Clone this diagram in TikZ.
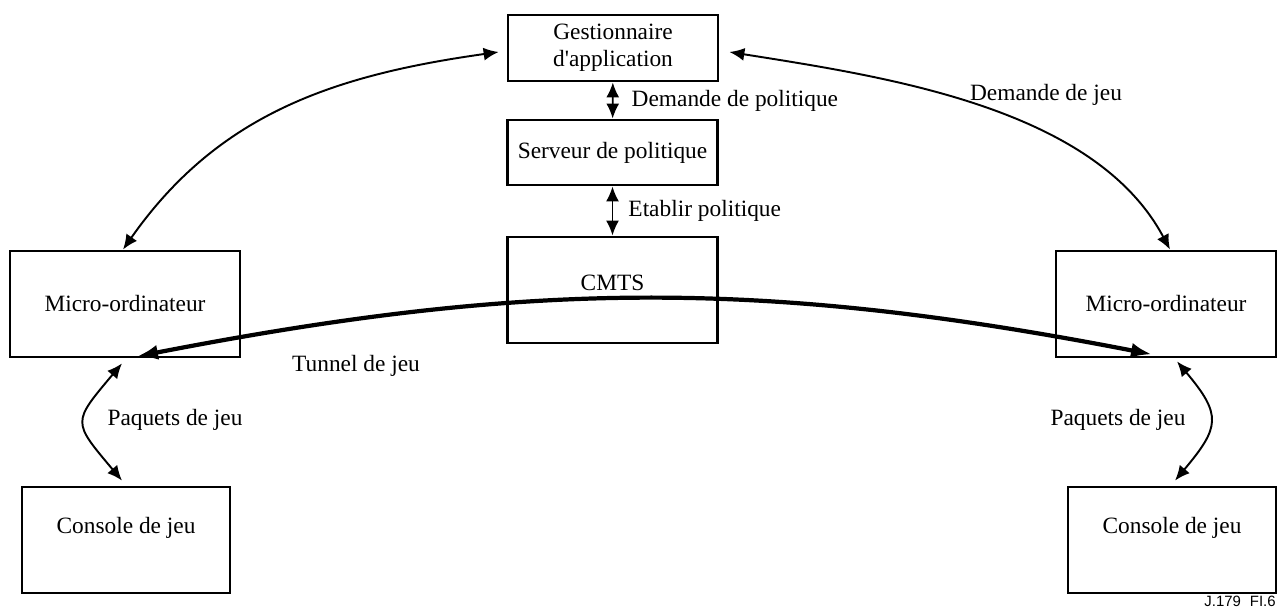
\documentclass[tikz,border=0pt]{standalone}
\usepackage{fontspec}
\setmainfont{Liberation Serif}[Ligatures=TeXOff]
\newfontfamily\figfont{Liberation Sans}
\usetikzlibrary{arrows.meta, positioning}

\tikzset{
    box/.style={draw, line width=1.6pt, minimum width=4.2cm, minimum height=1.32cm, align=center, inner sep=2pt, font=\fontsize{13.3}{15.3}\selectfont},
    txt/.style={font=\fontsize{13.3}{15.3}\selectfont, inner sep=0pt},
    link/.style={line width=1.1pt, {Latex[length=0.3cm,width=0.26cm]}-{Latex[length=0.3cm,width=0.26cm]}},
    tunnel/.style={line width=2.4pt, {Latex[length=0.42cm,width=0.3cm]}-{Latex[length=0.42cm,width=0.3cm]}}
}

\begin{document}
\begin{tikzpicture}[x=0.02cm, y=0.02cm]
            \useasboundingbox (0,0) rectangle (1277,614);

            % centre column
            \node[box] (gest) at (613,566) {Gestionnaire\\d'application};
            \node[box, minimum height=1.3cm] (serv) at (612.5,461.5) {Serveur de politique};
            \node[box, minimum height=2.12cm, label={[txt, name=cmtstxt, yshift=0.14cm]center:CMTS}] (cmts) at (612.5,324) {};

            % both sides
            \node[box, minimum width=4.6cm, minimum height=2.12cm] (micl) at (125,310) {Micro-ordinateur};
            \node[box, minimum width=4.4cm, minimum height=2.12cm] (micr) at (1166,310) {Micro-ordinateur};
            \node[box, minimum width=4.16cm, minimum height=2.12cm, label={[txt, name=conltxt, yshift=0.24cm]center:Console de jeu}] (conl) at (126,74) {};
            \node[box, minimum width=4.16cm, minimum height=2.12cm, label={[txt, name=conrtxt, yshift=0.24cm]center:Console de jeu}] (conr) at (1172,74) {};

            \draw[link] (gest) -- node[txt, right=0.36cm] (pollbl) {Demande de politique} (serv);
            \draw[link] (serv) -- node[txt, right=0.3cm] (etalbl) {Etablir politique} (cmts);

            \draw[link] ([xshift=-0.16cm,yshift=-0.08cm]gest.west) to[out=188, in=55] ([xshift=-0.04cm]micl.north);
            \draw[link] ([xshift=0.2cm,yshift=-0.08cm]gest.east) to[out=-9, in=118, looseness=0.85] ([xshift=0.08cm]micr.north);
            \node[txt] (jeulbl) at (1046,519) {Demande de jeu};

            \draw[tunnel] ([xshift=0.24cm,yshift=0.04cm]micl.south) to[out=11, in=169] ([xshift=-0.28cm,yshift=0.08cm]micr.south);
            \node[txt] (tunlbl) at (356,248) {Tunnel de jeu};

            \draw[link] ([xshift=-0.06cm,yshift=-0.1cm]micl.south) to[out=230, in=130, looseness=1.7] ([xshift=-0.08cm,yshift=0.1cm]conl.north);
            \draw[link] ([xshift=0.22cm,yshift=-0.06cm]micr.south) to[out=-50, in=50, looseness=1.5] ([xshift=0.06cm,yshift=0.1cm]conr.north);
            \node[txt] (paqllbl) at (175,194) {Paquets de jeu};
            \node[txt] (paqrlbl) at (1118,194) {Paquets de jeu};

            \node[font=\figfont\fontsize{8.5}{10}\selectfont, anchor=base east, inner sep=0pt] (figid) at (1276,7) {J.179\hspace{0.6em}FI.6};
        \end{tikzpicture}
\end{document}
